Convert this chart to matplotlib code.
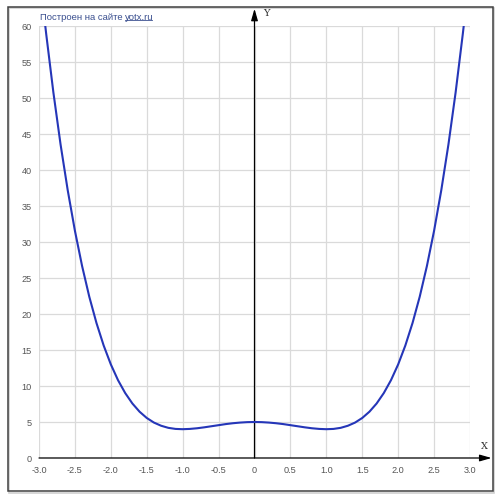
import matplotlib
matplotlib.use("Agg")
import matplotlib.pyplot as plt
from matplotlib.patches import Rectangle
from matplotlib.lines import Line2D
import numpy as np

# curve readings (x, y)
x_right = [0.0, 0.1, 0.2, 0.3, 0.4, 0.5, 0.6, 0.7, 0.8, 0.9, 1.0, 1.1, 1.2, 1.3,
           1.4, 1.5, 1.6, 1.7, 1.8, 1.9, 2.0, 2.1, 2.2, 2.3, 2.4, 2.5, 2.6, 2.7,
           2.8, 2.9, 2.92]
y_right = [5.0, 4.98, 4.92, 4.83, 4.71, 4.56, 4.41, 4.26, 4.13, 4.04, 4.0, 4.04,
           4.19, 4.48, 4.92, 5.56, 6.43, 7.57, 9.02, 10.81, 13.0, 15.63, 18.75,
           22.4, 26.66, 31.56, 37.18, 43.56, 50.79, 58.91, 60.65]
# curve is symmetric around x = 0
x_vals = [-v for v in x_right[:0:-1]] + x_right
y_vals = y_right[:0:-1] + y_right

x_ticks = [-3.0, -2.5, -2.0, -1.5, -1.0, -0.5, 0, 0.5, 1.0, 1.5, 2.0, 2.5, 3.0]
x_tick_labels = ["-3.0", "-2.5", "-2.0", "-1.5", "-1.0", "-0.5", "0",
                 "0.5", "1.0", "1.5", "2.0", "2.5", "3.0"]
y_ticks = [0, 5, 10, 15, 20, 25, 30, 35, 40, 45, 50, 55, 60]

W, H = 500, 502
fig = plt.figure(figsize=(W / 100, H / 100), dpi=100)
fig.patch.set_facecolor("white")

# outer frame with a faint shadow
fig.patches.append(Rectangle((9 / W, 1 - 494 / H), 485 / W, 485 / H,
                             transform=fig.transFigure, fill=False,
                             edgecolor="#d0d0d0", linewidth=1.2))
fig.patches.append(Rectangle((7.5 / W, 1 - 492 / H), 485 / W, 484.5 / H,
                             transform=fig.transFigure, fill=False,
                             edgecolor="#404040", linewidth=1.1))

ax = fig.add_axes([39 / W, 43 / H, 431 / W, 432 / H])
ax.set_xlim(-3, 3)
ax.set_ylim(0, 60)
for s in ax.spines.values():
    s.set_visible(False)

# grid
for xv in x_ticks:
    ax.axvline(xv, color="#dadada", linewidth=0.9, zorder=0)
for yv in y_ticks:
    ax.axhline(yv, color="#dadada", linewidth=0.9, zorder=0)

ax.set_xticks(x_ticks)
ax.set_xticklabels(x_tick_labels)
ax.set_yticks(y_ticks)
ax.tick_params(length=0, labelsize=6.6, labelcolor="#555555", pad=5)
for lbl in ax.get_xticklabels() + ax.get_yticklabels():
    lbl.set_family("Liberation Sans")

# axes with arrows
ax.annotate("", xy=(3.3, 0), xytext=(-3, 0), xycoords="data",
            arrowprops=dict(arrowstyle="-|>,head_length=0.7,head_width=0.2",
                            color="black", lw=0.9, shrinkA=0, shrinkB=0),
            annotation_clip=False)
ax.annotate("", xy=(0, 62.4), xytext=(0, 0), xycoords="data",
            arrowprops=dict(arrowstyle="-|>,head_length=0.7,head_width=0.2",
                            color="black", lw=0.9, shrinkA=0, shrinkB=0),
            annotation_clip=False)
fig.text(266 / W, 1 - 14 / H, "Y", family="DejaVu Serif", fontsize=7,
         color="#333333", ha="center", va="center")
fig.text(484 / W, 1 - 447 / H, "X", family="DejaVu Serif", fontsize=7,
         color="#333333", ha="center", va="center")

ax.plot(x_vals, y_vals, color="#2536b8", linewidth=1.5, zorder=3,
        solid_capstyle="round")

# caption with underlined site name
t1 = fig.text(40 / W, 1 - 17 / H, "Построен на сайте ", fontsize=6.8,
              family="Liberation Sans", color="#3a4f8f", ha="left", va="center")
fig.canvas.draw()
r = fig.canvas.get_renderer()
bb = t1.get_window_extent(renderer=r)
t2 = fig.text(bb.x1 / W, 1 - 17 / H, "yotx.ru", fontsize=6.8,
              family="Liberation Sans", color="#3a4f8f", ha="left", va="center")
bb2 = t2.get_window_extent(renderer=r)
uy = (bb2.y0 + 1.0) / H
fig.lines.append(Line2D([bb2.x0 / W, bb2.x1 / W - 0.003], [uy, uy],
                        transform=fig.transFigure, color="#3a4f8f",
                        linewidth=0.6))

fig.savefig("out.png", dpi=100)
